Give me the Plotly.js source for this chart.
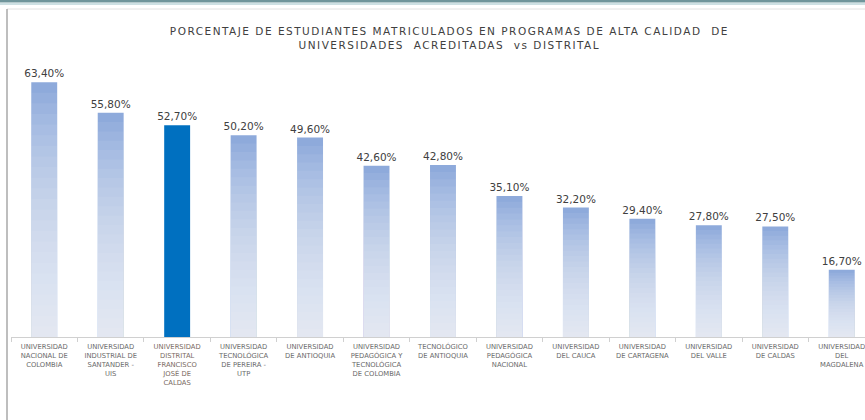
<!DOCTYPE html>
<html>
<head>
<meta charset="utf-8">
<script src="https://cdn.plot.ly/plotly-3.0.1.min.js"></script>
<style>
html,body{margin:0;padding:0;background:#fff;}
#chart{width:865px;height:420px;}
#chart .gtitle{letter-spacing:1.5px;}
</style>
</head>
<body>
<div id="chart"></div>
<script>
// ---- data ----
var categories = [
  "UNIVERSIDAD<br>NACIONAL DE<br>COLOMBIA",
  "UNIVERSIDAD<br>INDUSTRIAL DE<br>SANTANDER -<br>UIS",
  "UNIVERSIDAD<br>DISTRITAL<br>FRANCISCO<br>JOSÉ DE<br>CALDAS",
  "UNIVERSIDAD<br>TECNOLÓGICA<br>DE PEREIRA -<br>UTP",
  "UNIVERSIDAD<br>DE ANTIOQUIA",
  "UNIVERSIDAD<br>PEDAGÓGICA Y<br>TECNOLÓGICA<br>DE COLOMBIA",
  "TECNOLÓGICO<br>DE ANTIOQUIA",
  "UNIVERSIDAD<br>PEDAGÓGICA<br>NACIONAL",
  "UNIVERSIDAD<br>DEL CAUCA",
  "UNIVERSIDAD<br>DE CARTAGENA",
  "UNIVERSIDAD<br>DEL VALLE",
  "UNIVERSIDAD<br>DE CALDAS",
  "UNIVERSIDAD<br>DEL<br>MAGDALENA"
];
var values = [63.4, 55.8, 52.7, 50.2, 49.6, 42.6, 42.8, 35.1, 32.2, 29.4, 27.8, 27.5, 16.7];
var highlightIndex = 2;
var titleText = "PORCENTAJE DE ESTUDIANTES MATRICULADOS EN PROGRAMAS DE ALTA CALIDAD  DE<br>UNIVERSIDADES  ACREDITADAS  vs DISTRITAL";

// ---- styling ----
var barColor = "#8eaadb";
var highlightColor = "#0070c0";
var textColor = "#404040";
var fontFamily = "DejaVu Sans, Arial, sans-serif";

var labels = values.map(function (v) { return v.toFixed(2).replace(".", ",") + "%"; });
var colors = values.map(function (v, i) { return i === highlightIndex ? highlightColor : barColor; });
var tickText = categories.map(function (c, i) {
  return i === highlightIndex ? '<span style="color:#7a6a62">' + c + '</span>' : c;
});

var traces = [{
  type: "bar",
  x: categories,
  y: values,
  width: 0.39,
  marker: { color: colors, line: { width: 0 } },
  text: labels,
  textposition: "outside",
  constraintext: "none",
  textfont: { family: fontFamily, size: 10.5, color: textColor },
  cliponaxis: false,
  hoverinfo: "x+y",
  showlegend: false
}];

// vertical gradient shading: translucent white layers over the light bars
var N = 24;
for (var k = 1; k < N; k++) {
  traces.push({
    type: "bar",
    x: categories,
    y: values.map(function (v) { return v * (1 - k / N); }),
    width: 0.39,
    marker: {
      color: values.map(function (v, i) { return i === highlightIndex ? "rgba(0,0,0,0)" : "rgba(255,255,255,0.065)"; }),
      line: { width: 0 }
    },
    hoverinfo: "skip",
    showlegend: false
  });
}

var plotH = 420 - 36 - 83;
var pxToPaperY = function (py) { return (337 - py) / plotH; };
var pxToPaperX = function (px) { return (px - 11) / 854; };

var layout = {
  width: 865,
  height: 420,
  margin: { l: 11, r: 0, t: 36, b: 83, pad: 0 },
  paper_bgcolor: "#ffffff",
  plot_bgcolor: "#ffffff",
  barmode: "overlay",
  title: {
    text: titleText,
    font: { family: fontFamily, size: 10.5, color: textColor },
    x: 444 / 865, xanchor: "center", xref: "paper",
    y: 1 - 35 / 420, yanchor: "top", yref: "container"
  },
  xaxis: {
    type: "category",
    tickvals: categories,
    ticktext: tickText,
    range: [-0.5, 12.35],
    showline: true, linecolor: "#d0d0d0", linewidth: 1,
    ticks: "outside", ticklen: 4, tickcolor: "#d0d0d0",
    tickson: "boundaries",
    tickangle: 0,
    ticklabelstandoff: 3,
    tickfont: { family: fontFamily, size: 6.8, color: "#6a6a6a" },
    showgrid: false, zeroline: false, fixedrange: true
  },
  yaxis: {
    range: [0, plotH / 4.02],
    visible: false, showgrid: false, zeroline: false, fixedrange: true
  },
  shapes: [
    { type: "rect", xref: "paper", yref: "paper", x0: pxToPaperX(0), x1: pxToPaperX(865), y0: pxToPaperY(0), y1: pxToPaperY(2.5), fillcolor: "#6f959b", line: { width: 0 }, layer: "above" },
    { type: "line", xref: "paper", yref: "paper", x0: pxToPaperX(0), x1: pxToPaperX(865), y0: pxToPaperY(4), y1: pxToPaperY(4), line: { color: "#bcd6da", width: 1.5 } },
    { type: "line", xref: "paper", yref: "paper", x0: pxToPaperX(7), x1: pxToPaperX(865), y0: pxToPaperY(9), y1: pxToPaperY(9), line: { color: "#e2e2e2", width: 1 } },
    { type: "line", xref: "paper", yref: "paper", x0: pxToPaperX(7), x1: pxToPaperX(7), y0: pxToPaperY(9), y1: pxToPaperY(420), line: { color: "#a8a8a8", width: 1.5 } }
  ],
  showlegend: false
};

Plotly.newPlot("chart", traces, layout, { displayModeBar: false, staticPlot: true });
</script>
</body>
</html>
